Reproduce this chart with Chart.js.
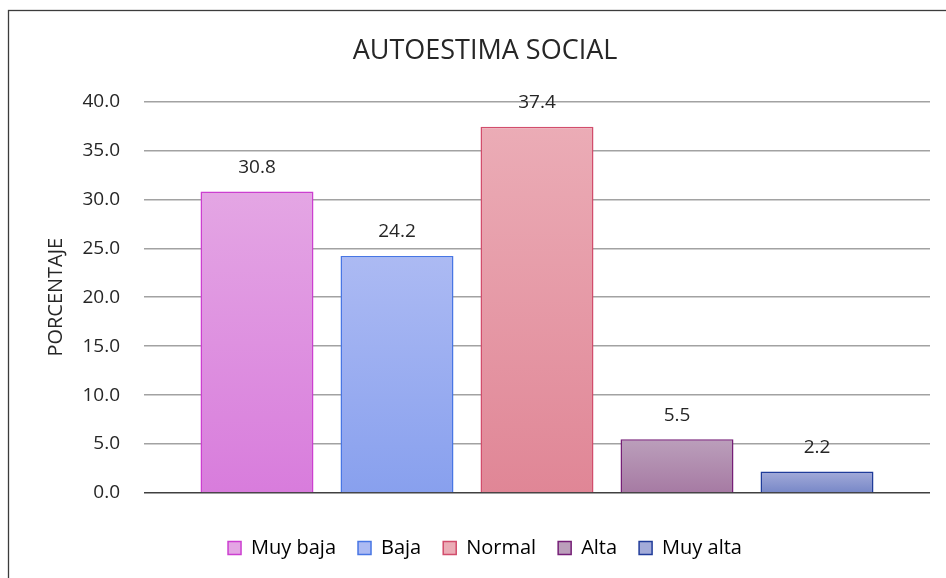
<!DOCTYPE html>
<html>
<head>
<meta charset="utf-8">
<script src="https://cdn.jsdelivr.net/npm/chart.js@4.4.0/dist/chart.umd.min.js"></script>
<style>
  body { margin: 0; background: #fff; }
  #wrap { width: 946px; height: 578px; }
</style>
</head>
<body>
<div id="wrap"><canvas id="autoestima"></canvas></div>
<script>
// data
const niveles = ['Muy baja', 'Baja', 'Normal', 'Alta', 'Muy alta'];
const porcentajes = [30.8, 24.2, 37.4, 5.5, 2.2];
const yTicks = [0, 5, 10, 15, 20, 25, 30, 35, 40];

// colours: gradient top, gradient bottom, border
const topColors = ['#e4a6e4', '#acbaf3', '#ebacb6', '#bb9fbb', '#a3abd9'];
const bottomColors = ['#d87cdc', '#88a0ee', '#e08696', '#a67aa3', '#7787c7'];
const borderColors = ['#cc3fd0', '#4876e4', '#d24d6c', '#761f77', '#203c9a'];

const font = "'Open Sans', Carlito, Calibri, sans-serif";
const textColor = '#262626';

function barFill(i) {
  return function (ctx) {
    const chart = ctx.chart;
    if (!chart.chartArea || ctx.raw === undefined) return topColors[i];
    const y = chart.scales.y;
    const top = y.getPixelForValue(ctx.raw);
    const bottom = y.getPixelForValue(0);
    const g = chart.ctx.createLinearGradient(0, top, 0, bottom);
    g.addColorStop(0, topColors[i]);
    g.addColorStop(1, bottomColors[i]);
    return g;
  };
}

const datasets = niveles.map((n, i) => ({
  label: n,
  data: [porcentajes[i]],
  backgroundColor: barFill(i),
  borderColor: borderColors[i],
  borderWidth: 1.5,
  categoryPercentage: 0.8906,
  barPercentage: 0.807
}));

// outer frame of the chart
const framePlugin = {
  id: 'frame',
  beforeDraw(chart) {
    const c = chart.ctx;
    c.save();
    c.strokeStyle = '#3c3c3c';
    c.lineWidth = 1.3;
    c.strokeRect(8.5, 10.5, 2000, 2000);
    c.restore();
  }
};

// value labels above each bar
const valueLabels = {
  id: 'valueLabels',
  afterDatasetsDraw(chart) {
    const c = chart.ctx;
    c.save();
    c.font = '19px ' + font;
    c.fillStyle = textColor;
    c.textAlign = 'center';
    c.textBaseline = 'middle';
    chart.data.datasets.forEach((ds, i) => {
      const bar = chart.getDatasetMeta(i).data[0];
      c.fillText(ds.data[0].toFixed(1), bar.x, bar.y - 24);
    });
    c.restore();
  }
};

const config = {
  type: 'bar',
  data: { labels: [''], datasets: datasets },
  options: {
    responsive: true,
    maintainAspectRatio: false,
    animation: false,
    layout: { padding: { top: 26, left: 40, right: 16, bottom: 10 } },
    scales: {
      x: {
        ticks: { display: false },
        grid: { display: false },
        border: { display: false },
        afterFit(scale) { scale.height = 23; }
      },
      y: {
        min: 0,
        max: 40,
        afterBuildTicks(scale) { scale.ticks = yTicks.map(v => ({ value: v })); },
        afterFit(scale) { scale.width = 104; },
        ticks: {
          padding: 24,
          color: textColor,
          font: { family: font, size: 19 },
          callback: v => Number(v).toFixed(1)
        },
        grid: {
          drawTicks: false,
          color: ctx => ctx.tick && ctx.tick.value === 0 ? '#404040' : '#a2a2a2',
          lineWidth: 1.5
        },
        border: { display: false },
        title: {
          display: true,
          text: 'PORCENTAJE',
          color: textColor,
          font: { family: font, size: 20 }
        }
      }
    },
    plugins: {
      title: {
        display: true,
        text: 'AUTOESTIMA SOCIAL',
        color: textColor,
        font: { family: font, size: 27, weight: 'normal' },
        padding: { top: 9, bottom: 34 }
      },
      legend: {
        position: 'bottom',
        labels: {
          color: textColor,
          font: { family: font, size: 20 },
          boxWidth: 13,
          boxHeight: 13,
          padding: 22,
          generateLabels(chart) {
            return chart.data.datasets.map((ds, i) => ({
              text: ds.label,
              fillStyle: topColors[i],
              strokeStyle: borderColors[i],
              lineWidth: 1.5,
              hidden: false,
              datasetIndex: i
            }));
          }
        }
      },
      tooltip: { enabled: false }
    }
  },
  plugins: [framePlugin, valueLabels]
};

new Chart(document.getElementById('autoestima'), config);
</script>
</body>
</html>
